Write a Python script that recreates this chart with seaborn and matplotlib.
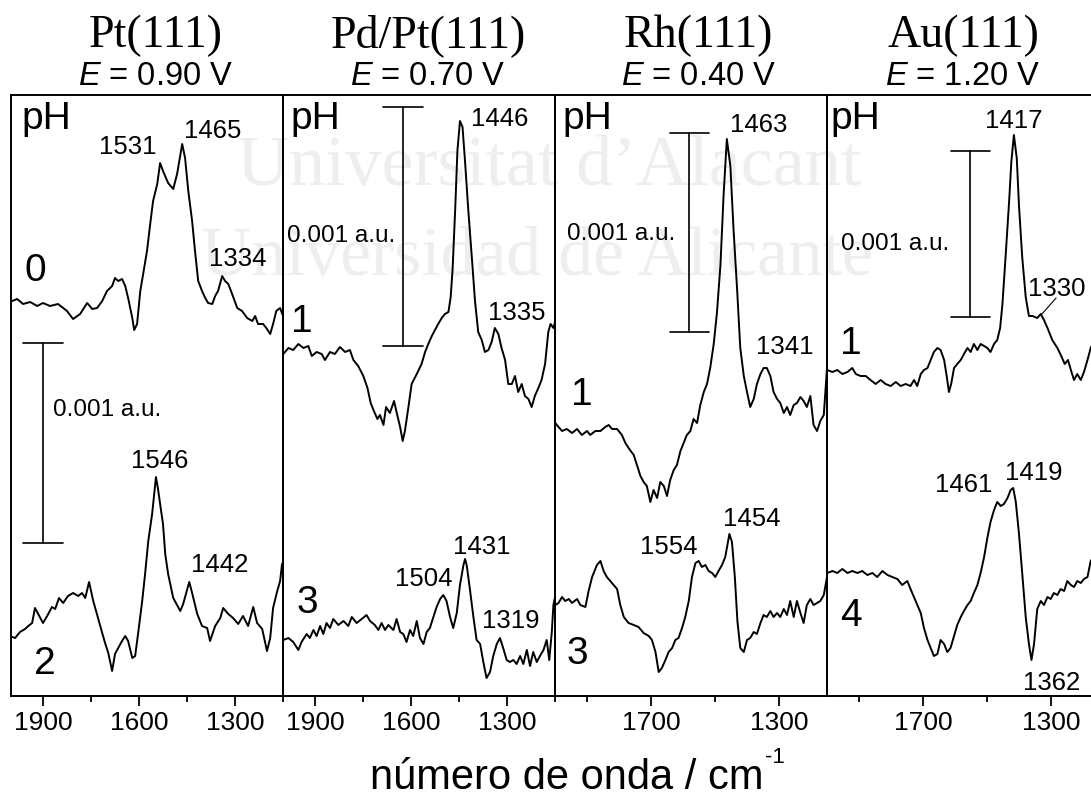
import matplotlib
matplotlib.use("Agg")
import matplotlib.pyplot as plt
import seaborn as sns

# ---------------- data (wavenumber / cm-1, stacked absorbance in plot units) -------------
pt_ph0_wn = [1996,1981,1962,1940,1918,1900,1878,1853,1825,1806,1784,1762,1746,1731,1715,1700,1684,1675,1665,1653,
             1643,1634,1621,1615,1606,1596,1587,1575,1565,1556,1543,1534,1525,1509,1493,1481,1465,1456,1446,1434,
             1425,1415,1403,1393,1384,1371,1362,1353,1340,1331,1321,1309,1293,1278,1262,1246,1237,1228,1212,1200,
             1190,1181,1171,1159,1150]
pt_ph0_ab = [395,397,392,394,390,393,390,392,385,377,382,393,387,388,395,405,410,418,415,417,
             410,398,378,366,372,405,422,445,472,495,512,533,525,513,507,522,552,538,505,475,
             445,415,405,398,393,392,400,405,420,415,412,402,388,385,378,375,380,372,372,367,
             362,372,385,388,380]

pt_ph2_wn = [1996,1987,1972,1956,1946,1934,1925,1915,1900,1887,1872,1862,1850,1837,1822,1806,1790,1778,1768,1756,
             1743,1728,1715,1706,1696,1684,1675,1665,1653,1643,1634,1621,1612,1603,1590,1581,1571,1559,1547,1541,
             1534,1525,1518,1509,1493,1471,1462,1443,1434,1418,1403,1387,1378,1362,1346,1337,1321,1306,1290,1275,
             1259,1243,1231,1215,1200,1190,1181,1168,1159,1153]
pt_ph2_ab = [59,58,64,67,70,73,88,82,73,80,89,87,98,93,100,103,100,103,98,114,
             95,78,63,53,43,25,42,48,55,60,55,38,40,62,95,122,155,182,219,208,
             192,172,142,122,98,85,92,114,103,82,70,68,55,70,78,88,82,78,72,80,
             70,89,73,67,45,58,88,105,115,132]

pdpt_ph1_wn = [1999,1983,1968,1952,1936,1921,1910,1895,1879,1869,1853,1838,1822,1806,1791,1780,1765,1749,1736,1726,
               1716,1705,1697,1686,1678,1666,1653,1643,1634,1626,1619,1608,1598,1582,1567,1556,1546,1535,1525,1515,
               1504,1494,1483,1476,1470,1462,1455,1447,1439,1431,1421,1410,1400,1390,1379,1369,1358,1348,1338,1327,
               1317,1306,1296,1285,1275,1265,1254,1244,1233,1223,1213,1202,1192,1181,1171,1164,1155,1150]
pdpt_ph1_ab = [342,348,346,352,348,350,340,344,342,336,344,342,349,344,346,336,330,320,308,293,
               285,277,281,271,289,283,295,281,269,255,265,289,312,322,332,344,352,360,366,372,
               378,382,384,399,427,486,545,575,569,534,486,439,395,364,356,344,346,354,368,362,
               348,336,312,312,320,304,312,300,297,289,300,308,316,332,364,372,368,374]

pdpt_ph3_wn = [1999,1983,1968,1952,1942,1926,1916,1905,1895,1884,1874,1864,1853,1843,1827,1811,1796,1785,1770,1754,
               1739,1728,1713,1702,1692,1681,1671,1655,1645,1634,1624,1614,1603,1593,1582,1572,1561,1551,1541,1530,
               1520,1509,1499,1489,1478,1468,1457,1447,1436,1431,1426,1416,1405,1395,1384,1374,1364,1353,1343,1332,
               1322,1312,1301,1291,1280,1270,1259,1249,1238,1228,1218,1207,1197,1186,1176,1168,1160,1155,1150]
pdpt_ph3_ab = [56,58,54,46,54,62,58,66,60,70,62,73,68,77,71,75,70,79,73,77,
               81,75,71,66,73,66,71,66,77,64,62,54,66,60,75,58,52,64,68,79,
               89,97,101,95,79,68,83,111,131,137,131,107,79,56,52,34,18,24,40,52,
               58,48,36,34,36,32,40,32,46,30,44,34,40,46,56,36,64,91,99]

rh_ph1_wn = [1999,1989,1978,1963,1947,1931,1916,1900,1890,1874,1858,1843,1832,1822,1806,1791,1780,1768,1754,1744,
             1733,1723,1713,1702,1692,1681,1671,1660,1650,1640,1629,1619,1608,1598,1588,1577,1567,1556,1546,1535,
             1525,1515,1504,1494,1483,1473,1463,1452,1442,1431,1421,1410,1400,1390,1379,1369,1358,1348,1338,1327,
             1317,1306,1296,1285,1275,1265,1254,1244,1233,1223,1213,1202,1192,1181,1171,1160,1150]
rh_ph1_ab = [273,269,265,267,263,267,261,265,261,265,265,269,271,267,267,261,253,247,241,231,
             220,214,210,194,206,198,214,210,200,216,226,231,245,253,261,265,277,273,291,304,
             312,328,352,383,431,502,557,530,466,407,348,320,304,289,297,312,322,328,328,320,
             304,297,293,283,289,281,291,293,299,295,289,300,271,265,275,281,328]

rh_ph3_wn = [1999,1989,1978,1968,1957,1947,1931,1921,1905,1895,1884,1869,1858,1848,1838,1822,1806,1796,1785,1770,
             1754,1739,1723,1707,1697,1686,1676,1666,1655,1645,1634,1624,1614,1603,1593,1582,1572,1561,1551,1541,
             1530,1520,1509,1499,1489,1478,1468,1455,1447,1438,1430,1421,1410,1400,1390,1379,1369,1358,1348,1338,
             1327,1317,1306,1296,1285,1275,1265,1254,1244,1233,1223,1213,1202,1192,1181,1171,1160,1150]
rh_ph3_ab = [91,93,99,95,97,93,97,91,89,105,119,131,135,125,119,113,107,91,79,73,
             71,69,63,60,56,44,24,28,36,44,48,56,58,68,79,95,119,133,135,129,
             131,125,123,119,125,131,139,162,154,119,75,48,44,56,58,64,62,73,81,79,
             85,79,83,79,87,81,95,79,95,83,73,91,97,91,93,95,101,119]

au_ph1_wn = [1999,1983,1968,1952,1936,1921,1910,1895,1879,1864,1848,1832,1817,1801,1785,1770,1754,1739,1728,1718,
             1707,1697,1686,1676,1666,1655,1645,1634,1626,1619,1612,1603,1593,1582,1572,1561,1551,1541,1530,1520,
             1509,1499,1489,1478,1468,1459,1452,1442,1431,1424,1416,1407,1400,1390,1379,1369,1358,1343,1332,1322,
             1311,1296,1280,1268,1257,1247,1236,1228,1218,1207,1197,1186,1176,1165]
au_ph1_ab = [326,324,326,322,324,328,322,320,320,316,312,316,312,310,314,310,312,310,316,310,
             322,326,328,336,344,348,346,336,320,304,312,328,332,336,342,348,344,352,346,352,
             350,348,344,352,356,368,391,439,494,534,561,538,490,439,399,380,380,378,382,376,
             368,356,348,340,332,336,324,316,322,316,324,336,348,356]

au_ph4_wn = [1999,1983,1968,1952,1936,1921,1905,1890,1874,1858,1843,1827,1811,1796,1780,1765,1749,1739,1723,1707,
             1697,1686,1676,1666,1655,1645,1634,1624,1614,1603,1593,1582,1572,1561,1551,1541,1530,1520,1509,1499,
             1489,1478,1468,1457,1447,1436,1426,1418,1410,1400,1390,1379,1369,1361,1353,1343,1332,1322,1311,1301,
             1291,1280,1270,1259,1249,1238,1228,1218,1207,1197,1186,1176,1165]
au_ph4_ab = [123,125,123,127,123,125,123,125,121,123,119,125,121,119,117,111,115,107,95,83,
             68,56,48,40,42,56,52,44,48,60,71,79,85,91,95,103,111,123,139,158,
             174,186,194,190,192,198,206,208,194,162,123,79,52,36,52,87,95,91,99,97,
             103,101,107,105,115,111,109,115,113,117,119,135,140]

surfaces = ["Pt(111)", "Pd/Pt(111)", "Rh(111)", "Au(111)"]
potentials = ["0.90", "0.70", "0.40", "1.20"]
ph_values = [("0", "2"), ("1", "3"), ("1", "3"), ("1", "4")]
spectra = [((pt_ph0_wn, pt_ph0_ab), (pt_ph2_wn, pt_ph2_ab)),
           ((pdpt_ph1_wn, pdpt_ph1_ab), (pdpt_ph3_wn, pdpt_ph3_ab)),
           ((rh_ph1_wn, rh_ph1_ab), (rh_ph3_wn, rh_ph3_ab)),
           ((au_ph1_wn, au_ph1_ab), (au_ph4_wn, au_ph4_ab))]
# band labels: (text, wavenumber position, height position)
band_labels = [
    [("1531", 1634, 552), ("1465", 1369, 568), ("1334", 1291, 440), ("1546", 1534, 238), ("1442", 1347, 133)],
    [("1446", 1322, 579), ("1335", 1269, 385), ("1504", 1559, 119), ("1431", 1378, 151), ("1319", 1288, 77)],
    [("1463", 1362, 573), ("1341", 1281, 352), ("1554", 1644, 151), ("1454", 1384, 180)],
    [("1417", 1416, 577), ("1330", 1281, 409), ("1461", 1572, 213), ("1419", 1353, 225), ("1362", 1297, 16)],
]
# 0.001 a.u. scale bars: (x position, bottom, length of 0.001 a.u.)
scale_bars = [(1900, 153, 200), (1625, 350, 239), (1581, 364, 199), (1553, 379, 166)]
scale_text_pos = [(1869, 288), (1988, 463), (1962, 465), (1956, 455)]
ph_label_pos = [((1925, 415), (1894, 22)), ((1941, 364), (1925, 83)),
                ((1916, 291), (1931, 32)), ((1925, 342), (1925, 70))]
ph_head_x = [1966, 1978, 1978, 1988]
title_x = [0.533, 0.533, 0.526, 0.5]
major_ticks = [[1900, 1600, 1300], [1900, 1600, 1300], [1700, 1300], [1700, 1300]]
minor_ticks = [[1750, 1450, 1150], [1750, 1450, 1150], [1900, 1500], [1900, 1500]]

# ---------------- style ----------------
sns.set_style("ticks")
plt.rcParams['font.family'] = ['Liberation Sans', 'DejaVu Sans']
plt.rcParams['mathtext.fontset'] = 'custom'
plt.rcParams['mathtext.rm'] = 'Liberation Sans'
plt.rcParams['mathtext.it'] = 'Liberation Sans:italic'
plt.rcParams['text.color'] = 'black'
plt.rcParams['axes.labelcolor'] = 'black'
plt.rcParams['xtick.color'] = 'black'
plt.rcParams['xtick.labelcolor'] = 'black'
plt.rcParams['axes.edgecolor'] = 'black'

W, H = 1091, 797
fig = plt.figure(figsize=(W / 100, H / 100), dpi=100)

# faint repository watermark
fig.text(549 / W, 1 - 185 / H, "Universitat d\u2019Alacant", family='Liberation Serif', size=52,
         color='#eeeeee', ha='center', va='baseline', zorder=-5)
fig.text(537 / W, 1 - 275 / H, "Universidad de Alicante", family='Liberation Serif', size=50,
         color='#eeeeee', ha='center', va='baseline', zorder=-5)

lefts = [11, 283, 555, 827]
ax_w, ax_b, ax_h = 272, 101, 601
for i in range(4):
    ax = fig.add_axes([lefts[i] / W, ax_b / H, ax_w / W, ax_h / H])
    ax.patch.set_alpha(0)
    for (wn, ab) in spectra[i]:
        sns.lineplot(x=wn, y=ab, ax=ax, color='black', linewidth=1.4, sort=False, estimator=None)
    ax.set_xlim(2000, 1150)
    ax.set_ylim(0, 601)
    ax.set_yticks([])
    ax.set_xticks(major_ticks[i])
    ax.set_xticks(minor_ticks[i], minor=True)
    ax.tick_params(axis='x', which='major', direction='out', length=7, width=1.3,
                   labelsize=19, pad=4, color='black', labelcolor='black')
    ax.tick_params(axis='x', which='minor', direction='out', length=4, width=1.3, color='black')
    for sp in ax.spines.values():
        sp.set_visible(True)
        sp.set_color('black')
        sp.set_linewidth(1.4)
    ax.set_xlabel("")
    ax.set_ylabel("")

    # titles
    ax.text(title_x[i], 1.080, surfaces[i], transform=ax.transAxes, ha='center', va='baseline',
            family='Liberation Serif', size=33)
    ax.text(title_x[i], 1.0166, "$E$ = %s V" % potentials[i], transform=ax.transAxes,
            ha='center', va='baseline', size=23.5)

    # pH head and values
    ax.text(ph_head_x[i], 567, "pH", ha='left', va='baseline', size=28)
    for lab, (px, py) in zip(ph_values[i], ph_label_pos[i]):
        ax.text(px, py, lab, ha='center', va='baseline', size=28)

    # band labels
    for txt, bx, by in band_labels[i]:
        ax.text(bx, by, txt, ha='center', va='center_baseline', size=18.5)

    # scale bar
    sx, sb, sl = scale_bars[i]
    ax.plot([sx, sx], [sb, sb + sl], color='black', lw=1.2)
    ax.plot([sx + 61, sx - 61], [sb, sb], color='black', lw=1.2)
    ax.plot([sx + 61, sx - 61], [sb + sl, sb + sl], color='black', lw=1.2)
    tx, ty = scale_text_pos[i]
    ax.text(tx, ty, "0.001 a.u.", ha='left', va='center_baseline', size=17.5)

    if i == 3:
        ax.plot([1331, 1284], [381, 398], color='black', lw=0.8)

# x-axis title with a hyphen superscript
xl = fig.text(370 / W, 8 / H, "número de onda / cm", ha='left', va='baseline', size=30)
fig.canvas.draw()
bb = xl.get_window_extent()
fig.text((bb.x1 + 1) / W, (8 + 26) / H, "-1", ha='left', va='baseline', size=16)

fig.savefig("out.png", dpi=100)
